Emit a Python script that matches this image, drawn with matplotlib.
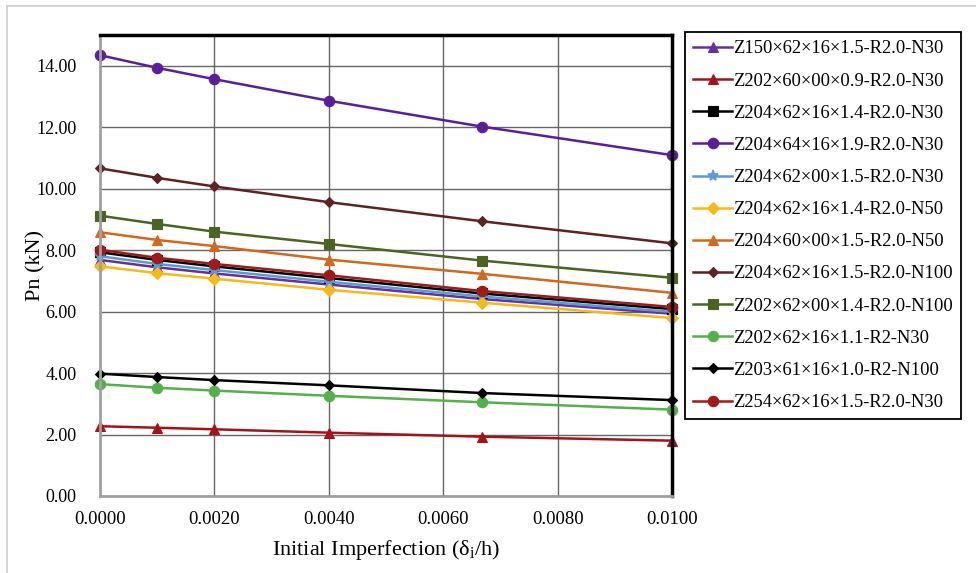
import numpy as np
import matplotlib.pyplot as plt
from matplotlib.lines import Line2D

plt.rcParams['font.family'] = ['Liberation Serif', 'DejaVu Serif']
plt.rcParams['mathtext.fontset'] = 'custom'
plt.rcParams['mathtext.rm'] = 'Liberation Serif'
plt.rcParams['mathtext.it'] = 'Liberation Serif:italic'

# initial imperfection ratios
imperf = [0.0, 0.001, 0.002, 0.004, 0.00667, 0.01]

labels = [
    "Z150×62×16×1.5-R2.0-N30",
    "Z202×60×00×0.9-R2.0-N30",
    "Z204×62×16×1.4-R2.0-N30",
    "Z204×64×16×1.9-R2.0-N30",
    "Z204×62×00×1.5-R2.0-N30",
    "Z204×62×16×1.4-R2.0-N50",
    "Z204×60×00×1.5-R2.0-N50",
    "Z204×62×16×1.5-R2.0-N100",
    "Z202×62×00×1.4-R2.0-N100",
    "Z202×62×16×1.1-R2-N30",
    "Z203×61×16×1.0-R2-N100",
    "Z254×62×16×1.5-R2.0-N30",
]

# Pn (kN) for each section
z150_n30 = [7.68, 7.44, 7.24, 6.88, 6.41, 5.93]
z202_060_n30 = [2.27, 2.22, 2.17, 2.06, 1.93, 1.80]
z204_1p4_n30 = [7.93, 7.68, 7.47, 7.09, 6.59, 6.08]
z204_064_n30 = [14.34, 13.93, 13.56, 12.86, 12.02, 11.09]
z204_000_n30 = [7.80, 7.55, 7.35, 6.97, 6.49, 5.99]
z204_1p4_n50 = [7.47, 7.25, 7.07, 6.71, 6.29, 5.79]
z204_060_n50 = [8.58, 8.33, 8.13, 7.69, 7.23, 6.61]
z204_1p5_n100 = [10.66, 10.35, 10.07, 9.56, 8.94, 8.22]
z202_000_n100 = [9.12, 8.85, 8.60, 8.20, 7.66, 7.10]
z202_1p1_n30 = [3.64, 3.52, 3.43, 3.26, 3.05, 2.81]
z203_n100 = [3.98, 3.87, 3.77, 3.60, 3.35, 3.12]
z254_n30 = [8.01, 7.75, 7.55, 7.18, 6.67, 6.15]

series = [z150_n30, z202_060_n30, z204_1p4_n30, z204_064_n30, z204_000_n30,
          z204_1p4_n50, z204_060_n50, z204_1p5_n100, z202_000_n100,
          z202_1p1_n30, z203_n100, z254_n30]

colors = ['#6330A0', '#A3141A', '#000000', '#5A1E9B', '#5B9BD5', '#F5BA1A',
          '#D0691E', '#5E2222', '#4B6422', '#55B04A', '#000000', '#A01A1A']
markers = ['^', '^', 's', 'o', '*', 'D', '^', 'D', 's', 'o', 'D', 'o']
msizes = [7, 7, 6.5, 7.5, 8, 6, 7, 5, 7.5, 7.5, 5, 7.5]

fig = plt.figure(figsize=(9.76, 5.73), dpi=100)
ax = fig.add_axes([0.1025, 0.1344, 0.586, 0.8046])

for vals, lab, c, m, ms in zip(series, labels, colors, markers, msizes):
    ax.plot(imperf, vals, color=c, marker=m, markersize=ms, linewidth=1.8,
            label=lab, markeredgewidth=0.8 if m != '*' else 1.2, clip_on=False)

ax.set_xlim(0, 0.01)
ax.set_ylim(0, 15)
ax.set_xticks(np.arange(0, 0.0101, 0.002))
ax.set_yticks(np.arange(0, 15, 2))
ax.set_xticklabels(["%.4f" % v for v in np.arange(0, 0.0101, 0.002)])
ax.set_yticklabels(["%.2f" % v for v in np.arange(0, 15, 2)])
ax.tick_params(axis='x', length=0, labelsize=13.5, pad=11)
ax.tick_params(axis='y', length=0, labelsize=13, pad=17)
ax.grid(True, color='#666666', linewidth=1.0)
ax.set_axisbelow(True)

ax.spines['top'].set_color('black')
ax.spines['top'].set_linewidth(2.5)
ax.spines['right'].set_color('black')
ax.spines['right'].set_linewidth(2.5)
ax.spines['left'].set_color('#a0a0a0')
ax.spines['left'].set_linewidth(2)
ax.spines['bottom'].set_color('#a0a0a0')
ax.spines['bottom'].set_linewidth(2)

ax.set_ylabel("Pn (kN)", fontsize=16)
ax.yaxis.set_label_coords(-0.095, 0.5)
ax.set_xlabel(r"Initial Imperfection ($\mathregular{\delta_i}$/h)", fontsize=16, labelpad=7)

leg = fig.legend(loc='upper left', bbox_to_anchor=(0.702, 0.944), fontsize=13.3,
                 frameon=True, fancybox=False, edgecolor='black', framealpha=1,
                 handlelength=2.1, handletextpad=0.05, labelspacing=0.82,
                 borderpad=0.45, borderaxespad=0)
leg.get_frame().set_linewidth(1.3)

# light border around the whole picture
fig.add_artist(Line2D([0.007, 0.007], [0, 0.99], color='#cccccc', linewidth=1.2))
fig.add_artist(Line2D([0.007, 1.0], [0.99, 0.99], color='#cccccc', linewidth=1.2))

fig.savefig('out.png', dpi=100)
